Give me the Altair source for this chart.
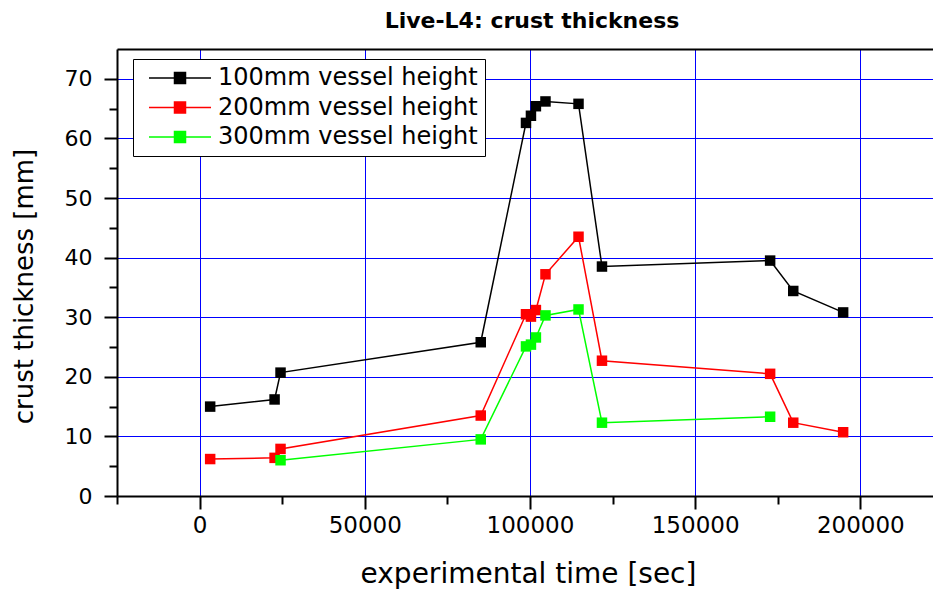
import altair as alt
import pandas as pd

# Crust thickness measured over the Live-L4 run, one series per vessel height
series_names = ["100mm vessel height", "200mm vessel height", "300mm vessel height"]
series_colors = ["#000000", "#ff0000", "#00ff00"]

time_100 = [3200, 22700, 24500, 85100, 98800, 100300, 101800, 104700, 114700, 121800, 172700, 179700, 194800]
crust_100 = [15.0, 16.2, 20.7, 25.8, 62.6, 63.8, 65.4, 66.2, 65.8, 38.5, 39.5, 34.4, 30.8]

time_200 = [3200, 22700, 24500, 85100, 98800, 100300, 101800, 104700, 114700, 121800, 172700, 179700, 194800]
crust_200 = [6.2, 6.4, 7.9, 13.5, 30.5, 30.1, 31.2, 37.2, 43.5, 22.7, 20.5, 12.3, 10.7]

time_300 = [24500, 85100, 98800, 100300, 101800, 104700, 114700, 121800, 172700]
crust_300 = [6.0, 9.5, 25.1, 25.4, 26.6, 30.3, 31.3, 12.3, 13.3]

x_ticks = list(range(-25000, 225000, 25000))
y_ticks = list(range(0, 75, 5))

rows = []
for name, ts, cs in zip(series_names, [time_100, time_200, time_300], [crust_100, crust_200, crust_300]):
    for i, (t, c) in enumerate(zip(ts, cs)):
        rows.append({"series": name, "time": t, "crust": c, "order": i})
df = pd.DataFrame(rows)

FONT = "DejaVu Sans"

x_scale = alt.Scale(domain=[-25000, 222000], nice=False, zero=False)
y_scale = alt.Scale(domain=[0, 75], nice=False, zero=False)
series_scale = alt.Scale(domain=series_names, range=series_colors)

x_axis = alt.Axis(
    values=x_ticks,
    labelExpr="datum.value % 50000 === 0 ? format(datum.value, 'd') : ''",
    labelFont=FONT, labelFontSize=23, labelColor="black", labelPadding=5,
    labelFlush=False, labelOverlap=False,
    tickSize={"condition": {"test": "datum.value % 50000 === 0", "value": 13}, "value": 8},
    tickColor="black", tickWidth=2,
    domainColor="black", domainWidth=2,
    grid=True, gridColor="#0000ff", gridWidth=1,
    gridOpacity={"condition": {"test": "datum.value % 50000 === 0", "value": 1}, "value": 0},
    title="experimental time [sec]", titleFont=FONT, titleFontSize=28,
    titleFontWeight="normal", titleColor="black",
    titleX=411, titleY=86, titleAlign="center", titleBaseline="alphabetic",
)

y_axis = alt.Axis(
    values=y_ticks,
    labelExpr="datum.value % 10 === 0 ? datum.label : ''",
    labelFont=FONT, labelFontSize=22, labelColor="black", labelPadding=12,
    labelFlush=False, labelOverlap=False,
    tickSize={"condition": {"test": "datum.value % 10 === 0", "value": 13}, "value": 8},
    tickColor="black", tickWidth=2,
    domainColor="black", domainWidth=2,
    grid=True, gridColor="#0000ff", gridWidth=1,
    gridOpacity={"condition": {"test": "datum.value % 10 === 0", "value": 1}, "value": 0},
    title="crust thickness [mm]", titleFont=FONT, titleFontSize=26,
    titleFontWeight="normal", titleColor="black",
    titleAngle=270, titleX=-85, titleY=237, titleAlign="center", titleBaseline="alphabetic",
)

# frame line along the top of the plot
top_axis = alt.Axis(
    orient="top", labels=False, ticks=False, grid=False, title=None,
    domainColor="black", domainWidth=2,
)

legend = alt.Legend(
    title=None, orient="none", legendX=16, legendY=10,
    symbolType="M-6.2,0H6.2M-1.1,-1.1H1.1V1.1H-1.1Z", symbolSize=100, symbolStrokeWidth=1.5,
    symbolOffset=28, labelOffset=26, labelLimit=400,
    labelFont=FONT, labelFontSize=24, labelColor="black",
    strokeColor="black", fillColor="white", padding=7, rowPadding=5.5,
)

base = alt.Chart(df)

lines = base.mark_line(strokeWidth=1.5).encode(
    x=alt.X("time:Q", scale=x_scale, axis=x_axis),
    y=alt.Y("crust:Q", scale=y_scale, axis=y_axis),
    stroke=alt.Stroke("series:N", scale=series_scale, legend=legend),
    order="order:Q",
    detail="series:N",
)

points = base.mark_square(size=110, opacity=1).encode(
    x=alt.X("time:Q", scale=x_scale, axis=top_axis),
    y=alt.Y("crust:Q", scale=y_scale, axis=y_axis),
    fill=alt.Fill("series:N", scale=series_scale, legend=legend),
)

chart = (
    alt.layer(lines, points)
    .resolve_axis(x="independent")
    .properties(
        width=816,
        height=447,
        autosize="none",
        padding={"left": 117, "top": 49, "right": 0, "bottom": 93},
        background="white",
        title=alt.TitleParams(
            "Live-L4: crust thickness", font=FONT, fontSize=22, fontWeight="bold",
            color="black", anchor="middle", frame="group", baseline="alphabetic",
            offset=21, dx=7, dy=22,
        ),
    )
    .configure_view(stroke=None)
)

chart.save("out.html", embed_options={"renderer": "svg", "actions": False})
